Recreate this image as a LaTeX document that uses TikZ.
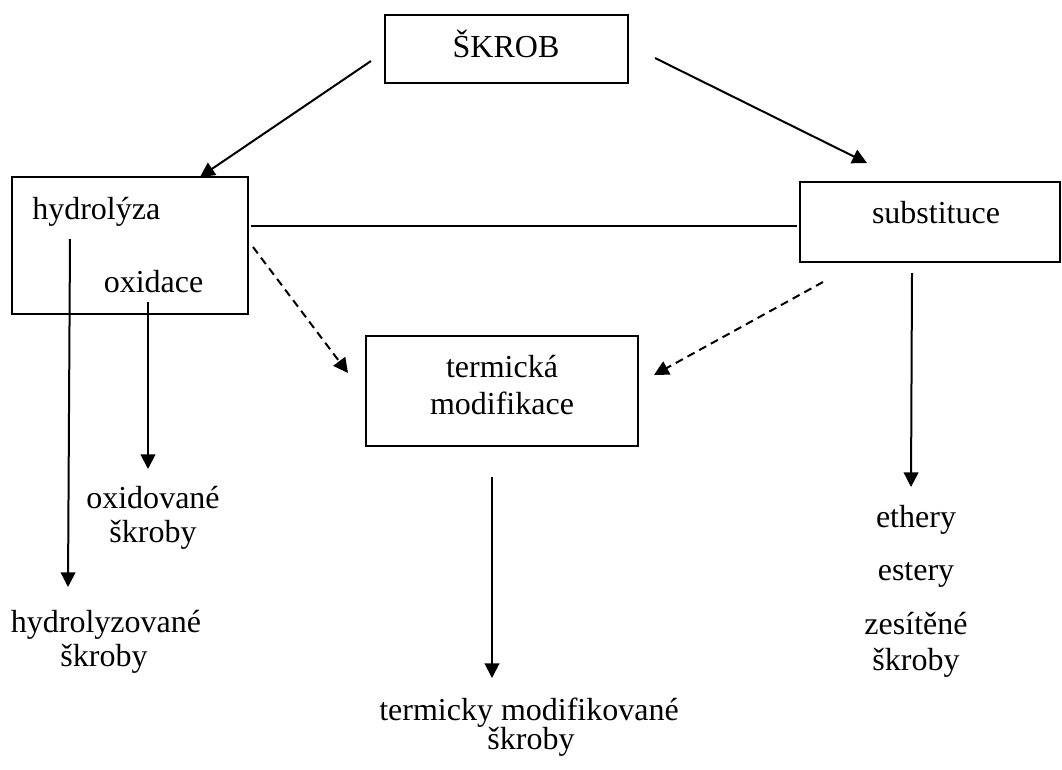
\documentclass[tikz,border=0pt]{standalone}
\usepackage{fontspec}
\setmainfont{Liberation Serif}
\usetikzlibrary{arrows.meta}
\begin{document}
\begin{tikzpicture}[x=0.75pt,y=-0.75pt,
  box/.style={draw,line width=1.5pt,inner sep=0pt},
  lbl/.style={inner sep=0pt,font=\fontsize{24}{27}\selectfont,align=center},
  conn/.style={line width=1.5pt},
  arr/.style={conn,-{Triangle[length=11pt,width=11pt]}},
  darr/.style={arr,dash pattern=on 6pt off 4pt}]
\useasboundingbox (0,0) rectangle (1062,769);
% boxes
\node[box,minimum width=182.25pt,minimum height=51pt] (skrob) at (506.5,49) {};
\node[box,minimum width=177pt,minimum height=102.75pt] (hyd) at (130,245.5) {};
\node[box,minimum width=195pt,minimum height=60pt] (sub) at (930,222) {};
\node[box,minimum width=204pt,minimum height=82.5pt] (term) at (502,391) {};
% texts
\node[lbl,anchor=base] (tskrob) at (506,57) {ŠKROB};
\node[lbl,anchor=base west] (thyd) at (32,219) {hydrolýza};
\node[lbl,anchor=base] (toxi) at (153.5,292) {oxidace};
\node[lbl,anchor=base] (tsub) at (936,223) {substituce};
\node[lbl,anchor=base] (tterm1) at (502,377) {termická};
\node[lbl,anchor=base] (tterm2) at (502,414) {modifikace};
\node[lbl,anchor=base] (oxs1) at (153,508) {oxidované};
\node[lbl,anchor=base] (oxs2) at (153,542) {škroby};
\node[lbl,anchor=base] (hys1) at (106,632) {hydrolyzované};
\node[lbl,anchor=base] (hys2) at (104,666) {škroby};
\node[lbl,anchor=base] (tms1) at (529,720) {termicky modifikované};
\node[lbl,anchor=base] (tms2) at (531,749) {škroby};
\node[lbl,anchor=base] (eth) at (916,527) {ethery};
\node[lbl,anchor=base] (est) at (916,580) {estery};
\node[lbl,anchor=base] (zes1) at (916,634) {zesítěné};
\node[lbl,anchor=base] (zes2) at (916,670) {škroby};
% connector end points
\coordinate (s1) at (371,61);  \coordinate (e1) at (200,177);
\coordinate (s2) at (655,58);  \coordinate (e2) at (867,163);
\coordinate (s3) at (251,226); \coordinate (e3) at (797,226);
\coordinate (s4) at (253,247); \coordinate (e4) at (348,373);
\coordinate (s5) at (823,282); \coordinate (e5) at (654,375);
\coordinate (s6) at (70,239);  \coordinate (e6) at (68,587);
\coordinate (s7) at (148,302); \coordinate (e7) at (148,469);
\coordinate (s8) at (912,273); \coordinate (e8) at (911,487);
\coordinate (s9) at (492,477); \coordinate (e9) at (492,678);
% connectors
\draw[arr] (s1) -- (e1);
\draw[arr] (s2) -- (e2);
\draw[conn] (s3) -- (e3);
\draw[darr] (s4) -- (e4);
\draw[darr] (s5) -- (e5);
\draw[arr] (s6) -- (e6);
\draw[arr] (s7) -- (e7);
\draw[arr] (s8) -- (e8);
\draw[arr] (s9) -- (e9);
\end{tikzpicture}
\end{document}
